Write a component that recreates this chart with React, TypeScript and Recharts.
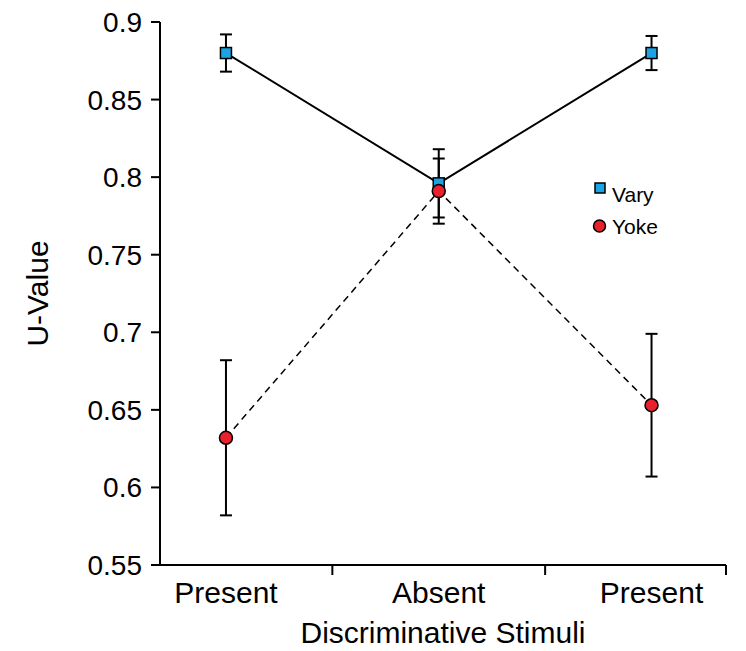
import { ComposedChart, Line, XAxis, YAxis, ErrorBar, Legend } from 'recharts';

const FONT = '"Liberation Sans", Arial, Helvetica, sans-serif';
const INK = '#000';
const BLUE = '#1ba3e3';
const RED = '#e8212a';

// category positions and labels
const positions = [1, 2, 3];
const categories = ['Present', 'Absent', 'Present'];
// where the x axis draws its small tick marks (between categories, and at the right end)
const tickMarks = [1.5, 2.5, 3.35];
const xDomain = [0.69, 3.35];

const vary = [0.88, 0.796, 0.88];
const varyErr = [0.012, 0.022, 0.011];
const yoke = [0.632, 0.791, 0.653];
const yokeErr = [0.05, 0.021, 0.046];

const yTicks = [0.55, 0.6, 0.65, 0.7, 0.75, 0.8, 0.85, 0.9];

const data = positions.map((x, i) => ({
  x,
  vary: vary[i],
  varyErr: varyErr[i],
  yoke: yoke[i],
  yokeErr: yokeErr[i],
}));

function SquareDot(props: any) {
  const { cx, cy } = props;
  if (cx == null || cy == null) return null;
  return <rect x={cx - 5.5} y={cy - 5.5} width={11} height={11} fill={BLUE} stroke={INK} strokeWidth={1.5} />;
}

function CircleDot(props: any) {
  const { cx, cy } = props;
  if (cx == null || cy == null) return null;
  return <circle cx={cx} cy={cy} r={6.5} fill={RED} stroke={INK} strokeWidth={1.5} />;
}

function XTick(props: any) {
  const { x, y, payload } = props;
  const v = payload.value;
  const idx = positions.indexOf(v);
  if (idx >= 0) {
    return (
      <text x={x} y={y + 38} textAnchor="middle" fontSize={30} fontFamily={FONT} fill={INK}>
        {categories[idx]}
      </text>
    );
  }
  return <line x1={x} y1={y} x2={x} y2={y + 10} stroke={INK} strokeWidth={2} />;
}

function YLabel(props: any) {
  const vb = props.viewBox;
  const cx = vb.x + 40;
  const cy = vb.y + vb.height / 2;
  return (
    <text
      x={cx}
      y={cy}
      transform={`rotate(-90, ${cx}, ${cy})`}
      textAnchor="middle"
      fontSize={30}
      fontFamily={FONT}
      fill={INK}
    >
      U-Value
    </text>
  );
}

function LegendBox() {
  return (
    <svg width={80} height={70} style={{ display: 'block' }}>
      <rect x={5} y={5} width={10} height={10} fill={BLUE} stroke={INK} strokeWidth={1.5} />
      <text x={22} y={24} fontSize={21} fontFamily={FONT} fill={INK}>Vary</text>
      <circle cx={9.5} cy={48} r={6} fill={RED} stroke={INK} strokeWidth={1.5} />
      <text x={22} y={56} fontSize={21} fontFamily={FONT} fill={INK}>Yoke</text>
    </svg>
  );
}

export default function App() {
  return (
    <div style={{ fontFamily: FONT }}>
      <ComposedChart width={730} height={643} data={data} margin={{ top: 14, right: 12, left: 0, bottom: 0 }}>
        <XAxis
          dataKey="x"
          type="number"
          domain={xDomain}
          ticks={[...positions, ...tickMarks]}
          tick={<XTick />}
          tickLine={false}
          tickSize={0}
          tickMargin={0}
          interval={0}
          height={86}
          axisLine={{ stroke: INK, strokeWidth: 2 }}
          allowDataOverflow
          label={{
            value: 'Discriminative Stimuli',
            position: 'insideBottom',
            offset: 8,
            fontSize: 30,
            fontFamily: FONT,
            fill: INK,
          }}
        />
        <YAxis
          type="number"
          domain={[0.55, 0.9]}
          ticks={yTicks}
          interval={0}
          width={152}
          tickSize={9}
          tickMargin={9}
          tick={{ fill: INK, fontSize: 28, fontFamily: FONT }}
          tickLine={{ stroke: INK, strokeWidth: 2 }}
          axisLine={{ stroke: INK, strokeWidth: 2 }}
          allowDataOverflow
          label={<YLabel />}
        />
        <Legend
          layout="horizontal"
          verticalAlign="middle"
          align="center"
          content={() => <LegendBox />}
          wrapperStyle={{ position: 'absolute', left: 582, top: 170, width: 80 }}
        />
        <Line
          dataKey="vary"
          name="Vary"
          stroke={INK}
          strokeWidth={2}
          dot={<SquareDot />}
          activeDot={false}
          isAnimationActive={false}
        >
          <ErrorBar dataKey="varyErr" direction="y" width={6} stroke={INK} strokeWidth={2} />
        </Line>
        <Line
          dataKey="yoke"
          name="Yoke"
          stroke={INK}
          strokeWidth={1.5}
          strokeDasharray="7 5"
          dot={<CircleDot />}
          activeDot={false}
          isAnimationActive={false}
        >
          <ErrorBar dataKey="yokeErr" direction="y" width={6} stroke={INK} strokeWidth={2} />
        </Line>
      </ComposedChart>
    </div>
  );
}
